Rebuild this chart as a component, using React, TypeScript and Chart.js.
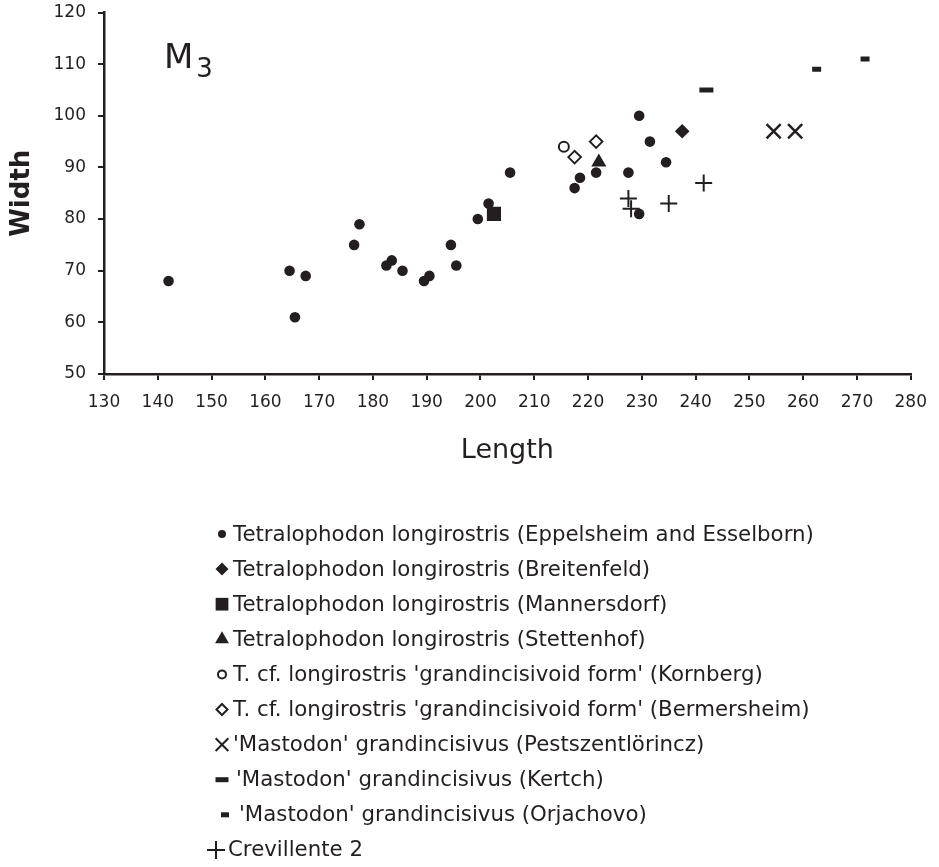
import React, { useEffect, useRef } from 'react';
import { Chart, registerables } from 'chart.js';
import { drawPoint } from 'chart.js/helpers';

Chart.register(...registerables);

const INK = '#231f20';
const FONT = '"DejaVu Sans", "Liberation Sans", sans-serif';

// ---- data (length, width) ----
const eppelsheimLength = [142, 164.5, 167.5, 165.5, 176.5, 177.5, 182.5, 183.5, 185.5, 189.5, 190.5, 194.5, 195.5, 199.5, 201.5, 205.5, 217.5, 218.5, 221.5, 227.5, 229.5, 231.5, 234.5, 229.5];
const eppelsheimWidth = [68, 70, 69, 61, 75, 79, 71, 72, 70, 68, 69, 75, 71, 80, 83, 89, 86, 88, 89, 89, 100, 95, 91, 81];
const breitenfeldLength = [237.5];
const breitenfeldWidth = [97];
const mannersdorfLength = [202.5];
const mannersdorfWidth = [81];
const stettenhofLength = [222];
const stettenhofWidth = [91];
const kornbergLength = [215.5];
const kornbergWidth = [94];
const bermersheimLength = [217.5, 221.5];
const bermersheimWidth = [92, 95];
const pestLength = [254.5, 258.5];
const pestWidth = [97, 97];
const kertchLength = [242];
const kertchWidth = [105];
const orjachovoLength = [262.5, 271.5];
const orjachovoWidth = [109, 111];
const crevillenteLength = [227.5, 228, 235, 241.5];
const crevillenteWidth = [84, 82, 83, 87];

const seriesNames = [
  'Tetralophodon longirostris (Eppelsheim and Esselborn)',
  'Tetralophodon longirostris (Breitenfeld)',
  'Tetralophodon longirostris (Mannersdorf)',
  'Tetralophodon longirostris (Stettenhof)',
  "T. cf. longirostris 'grandincisivoid form' (Kornberg)",
  "T. cf. longirostris 'grandincisivoid form' (Bermersheim)",
  "'Mastodon' grandincisivus (Pestszentlörincz)",
  "'Mastodon' grandincisivus (Kertch)",
  "'Mastodon' grandincisivus (Orjachovo)",
  'Crevillente 2',
];
const seriesLengths = [eppelsheimLength, breitenfeldLength, mannersdorfLength, stettenhofLength, kornbergLength, bermersheimLength, pestLength, kertchLength, orjachovoLength, crevillenteLength];
const seriesWidths = [eppelsheimWidth, breitenfeldWidth, mannersdorfWidth, stettenhofWidth, kornbergWidth, bermersheimWidth, pestWidth, kertchWidth, orjachovoWidth, crevillenteWidth];

const X_MIN = 130, X_MAX = 280, X_STEP = 10;
const Y_MIN = 50, Y_MAX = 120, Y_STEP = 10;
const xTitle = 'Length';
const yTitle = 'Width';

// ---- styles ----
type MarkerStyle = { style: any; radius: number; border: number; fill: string; lr: number; lb: number; dx: number; tx: number };
const markers: MarkerStyle[] = [
  { style: 'circle', radius: 5.3, border: 0, fill: INK, lr: 4, lb: 0, dx: 0, tx: 0 },
  { style: 'rectRot', radius: 7.3, border: 0, fill: INK, lr: 6.5, lb: 0, dx: 0, tx: 0 },
  { style: 'rect', radius: 10, border: 0, fill: INK, lr: 9, lb: 0, dx: 0, tx: 0 },
  { style: 'triangle', radius: 8.7, border: 0, fill: INK, lr: 8, lb: 0, dx: 0, tx: 0 },
  { style: 'circle', radius: 5, border: 2, fill: '#ffffff', lr: 4, lb: 2, dx: 0, tx: 0 },
  { style: 'rectRot', radius: 6.3, border: 2, fill: '#ffffff', lr: 5.5, lb: 2, dx: 0, tx: 0 },
  { style: 'crossRot', radius: 10, border: 2.5, fill: INK, lr: 9, lb: 2, dx: 0, tx: 0 },
  { style: 'line', radius: 7, border: 5, fill: INK, lr: 6.5, lb: 5, dx: 0, tx: 3 },
  { style: 'line', radius: 4.5, border: 5, fill: INK, lr: 4, lb: 5, dx: 3, tx: 6 },
  { style: 'cross', radius: 8.5, border: 2, fill: INK, lr: 9, lb: 2, dx: -6, tx: -5 },
];

const LEGEND_TOP = 534;
const LEGEND_GAP = 35.1;
const MARKER_X = 222;
const TEXT_X = 233;

const overlayPlugin = {
  id: 'overlay',
  afterDraw(chart: any) {
    const ctx = chart.ctx as CanvasRenderingContext2D;
    ctx.save();
    ctx.fillStyle = INK;
    ctx.textAlign = 'left';
    ctx.textBaseline = 'alphabetic';
    ctx.font = `34px ${FONT}`;
    ctx.fillText('M', 164, 68);
    const mw = ctx.measureText('M').width;
    ctx.font = `26px ${FONT}`;
    ctx.fillText('3', 164 + mw + 3, 77);

    ctx.font = `21.3px ${FONT}`;
    ctx.textBaseline = 'middle';
    chart.data.datasets.forEach((ds: any, i: number) => {
      const m = markers[i];
      const y = LEGEND_TOP + i * LEGEND_GAP;
      ctx.fillStyle = m.fill;
      ctx.strokeStyle = INK;
      ctx.lineWidth = m.lb;
      drawPoint(ctx, { pointStyle: m.style, radius: m.lr, borderWidth: m.lb, rotation: 0 } as any, MARKER_X + m.dx, y);
      ctx.fillStyle = INK;
      ctx.fillText(ds.label, TEXT_X + m.tx, y + 1);
    });
    ctx.restore();
  },
};

export default function App() {
  const ref = useRef<HTMLCanvasElement | null>(null);
  useEffect(() => {
    if (!ref.current) return;
    const datasets = seriesNames.map((name, i) => ({
      label: name,
      data: seriesLengths[i].map((x, j) => ({ x, y: seriesWidths[i][j] })),
      pointStyle: markers[i].style,
      pointRadius: markers[i].radius,
      pointHoverRadius: markers[i].radius,
      pointBorderWidth: markers[i].border,
      pointBackgroundColor: markers[i].fill,
      pointBorderColor: INK,
      showLine: false,
    }));
    const chart = new Chart(ref.current, {
      type: 'scatter',
      data: { datasets },
      options: {
        animation: false,
        responsive: true,
        maintainAspectRatio: false,
        layout: { padding: { left: 0, right: 25, top: 12.5, bottom: 0 } },
        plugins: { legend: { display: false }, tooltip: { enabled: false } },
        scales: {
          x: {
            type: 'linear',
            min: X_MIN,
            max: X_MAX,
            ticks: { stepSize: X_STEP, color: INK, font: { family: FONT, size: 17 }, padding: 12, maxRotation: 0 },
            grid: { drawOnChartArea: false, drawTicks: true, tickLength: 6, color: INK, lineWidth: 2 },
            border: { display: true, color: INK, width: 2.5 },
            title: { display: true, text: xTitle, color: INK, font: { family: FONT, size: 27, lineHeight: 1 }, padding: { top: 0, bottom: 403 } },
            afterFit: (s: any) => { s.height = 867 - 374; },
          },
          y: {
            type: 'linear',
            min: Y_MIN,
            max: Y_MAX,
            ticks: { stepSize: Y_STEP, color: INK, font: { family: FONT, size: 17 }, padding: 12 },
            grid: { drawOnChartArea: false, drawTicks: true, tickLength: 6, color: INK, lineWidth: 2 },
            border: { display: true, color: INK, width: 2.5 },
            title: { display: true, text: yTitle, color: INK, font: { family: FONT, size: 26, weight: 'bold', lineHeight: 1 }, padding: { top: 9, bottom: 0 } },
            afterFit: (s: any) => { s.width = 104; s.paddingTop = 0; s.paddingBottom = 0; },
          },
        },
      },
      plugins: [overlayPlugin],
    });
    return () => chart.destroy();
  }, []);
  return (
    <div style={{ position: 'fixed', left: 0, top: 0, width: 939, height: 867, background: '#fff' }}>
      <canvas ref={ref} />
    </div>
  );
}
